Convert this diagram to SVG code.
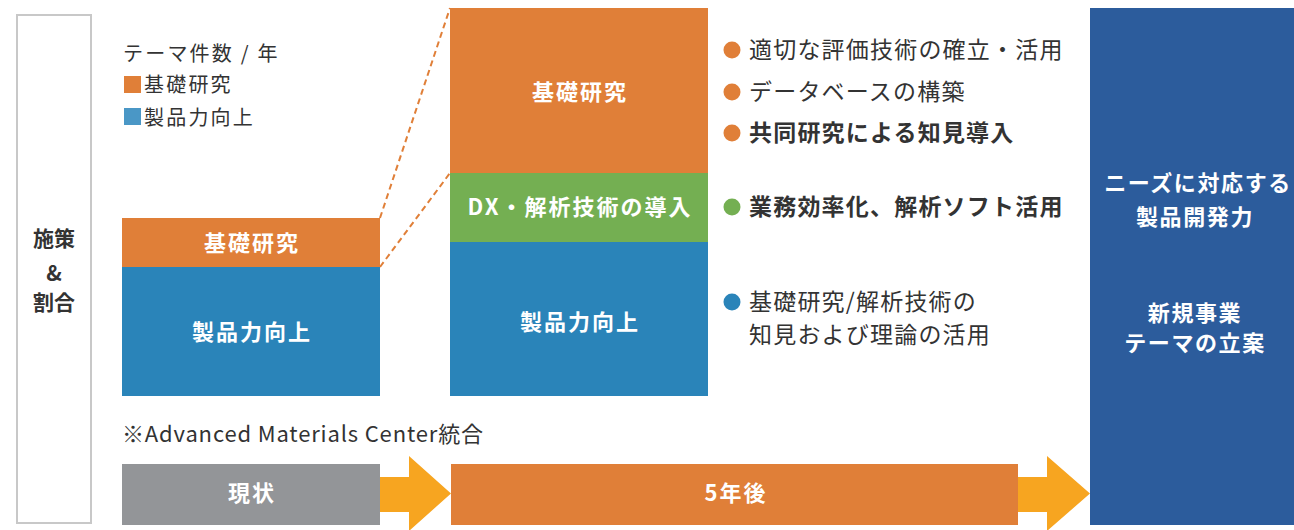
<svg xmlns="http://www.w3.org/2000/svg" width="1294" height="530" viewBox="0 0 1294 530">
<style>
text{font-family:"Noto Sans CJK JP","Noto Sans",sans-serif}
.lbl{fill:#fff;font-weight:bold;font-size:22px;letter-spacing:2px;text-anchor:middle}
.dark{fill:#333;font-weight:bold;font-size:21px;text-anchor:middle}
.leg{fill:#333;font-size:20px;letter-spacing:2.2px}
.bul{fill:#333;font-size:23px;letter-spacing:1.2px}
.bb{font-weight:bold}
.rt{fill:#fff;font-weight:bold;font-size:22px;letter-spacing:1.6px;text-anchor:middle}
.or{fill:#E07F38}.bl{fill:#2A84B9}.gr{fill:#74AF52}.ar{fill:#F7A520}
</style>
<rect width="1294" height="530" fill="#fff"/>
<g id="side">
<rect x="17" y="15" width="74" height="508" fill="#fff" stroke="#c8c8c8" stroke-width="2"/>
<text class="dark" x="54" y="246">施策</text>
<text class="dark" x="54" y="281">&amp;</text>
<text class="dark" x="54" y="310">割合</text>
</g>
<g id="legend">
<text class="leg" x="123" y="61">テーマ件数 / 年</text>
<rect x="124" y="76" width="17" height="17" fill="#E07F38"/>
<text class="leg" x="144" y="92">基礎研究</text>
<rect x="124" y="108" width="17" height="17" fill="#4A97C6"/>
<text class="leg" x="144" y="125">製品力向上</text>
</g>
<g id="connectors">
<path d="M380 218 L450 8 M380 267 L450 173" stroke="#E07F38" stroke-width="2" stroke-dasharray="6 4" fill="none"/>
<path class="ar" d="M380 477 H409 V456 L451 493.5 L409 531 V512 H380 Z"/>
<path class="ar" d="M1018 477 H1047 V456 L1090 493.5 L1047 531 V512 H1018 Z"/>
</g>
<g id="now-stack">
<rect class="or" x="122" y="218" width="258" height="49"/>
<text class="lbl" x="252" y="251">基礎研究</text>
<rect class="bl" x="122" y="267" width="258" height="129"/>
<text class="lbl" x="252" y="340">製品力向上</text>
</g>
<g id="future-stack">
<rect class="or" x="450" y="8" width="258" height="165"/>
<text class="lbl" x="580" y="100">基礎研究</text>
<rect class="gr" x="450" y="173" width="258" height="69"/>
<text class="lbl" x="580" y="215">DX・解析技術の導入</text>
<rect class="bl" x="450" y="242" width="258" height="154"/>
<text class="lbl" x="580" y="330">製品力向上</text>
</g>
<g id="bullets">
<circle class="or" cx="732" cy="50" r="8.5"/>
<text class="bul" x="749" y="58">適切な評価技術の確立・活用</text>
<circle class="or" cx="732" cy="92" r="8.5"/>
<text class="bul" x="749" y="100">データベースの構築</text>
<circle class="or" cx="732" cy="133" r="8.5"/>
<text class="bul bb" x="749" y="141">共同研究による知見導入</text>
<circle class="gr" cx="732" cy="207" r="8.5"/>
<text class="bul bb" x="749" y="215">業務効率化、解析ソフト活用</text>
<circle class="bl" cx="732" cy="302" r="8.5"/>
<text class="bul" x="749" y="310">基礎研究/解析技術の</text>
<text class="bul" x="749" y="343">知見および理論の活用</text>
</g>
<g id="goal">
<rect x="1090" y="8" width="204" height="517" fill="#2C5C9C"/>
<text class="rt" x="1198" y="191">ニーズに対応する</text>
<text class="rt" x="1195" y="225">製品開発力</text>
<text class="rt" x="1195" y="321">新規事業</text>
<text class="rt" x="1195" y="351">テーマの立案</text>
</g>
<text x="122" y="442" fill="#333" font-size="22" textLength="361" lengthAdjust="spacing">※Advanced Materials Center統合</text>
<g id="timeline">
<rect x="122" y="464" width="258" height="61" fill="#939598"/>
<text class="lbl" x="252" y="501">現状</text>
<rect class="or" x="451" y="464" width="567" height="61"/>
<text class="lbl" x="736" y="501">5年後</text>
</g>
</svg>
